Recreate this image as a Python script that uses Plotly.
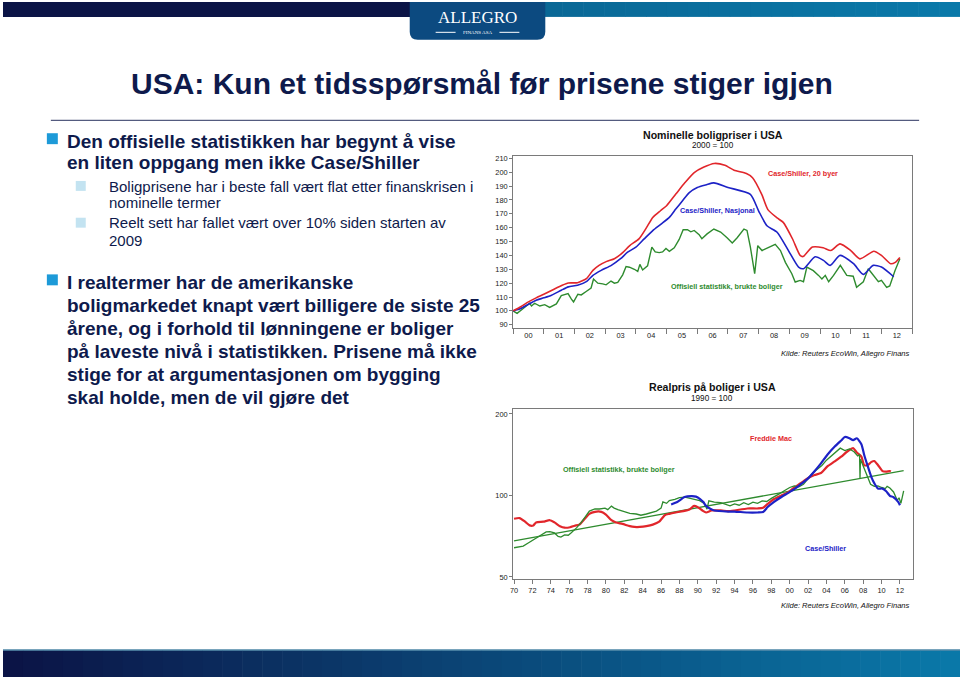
import plotly.graph_objects as go

W, H = 960, 679
def X(p): return p / W
def Y(p): return 1 - p / H

# ---------------- DATA ----------------
# Top chart: nominal house prices (2000 = 100), x in decimal years
cs20_x = [2000.0, 2000.25, 2000.5, 2000.75, 2001.0, 2001.3, 2001.6, 2001.8, 2002.1, 2002.4, 2002.6, 2002.8,
          2003.05, 2003.3, 2003.55, 2003.8, 2004.1, 2004.35, 2004.55, 2004.8, 2005.0, 2005.3, 2005.6, 2005.9,
          2006.2, 2006.55, 2006.9, 2007.2, 2007.6, 2007.8, 2008.1, 2008.3, 2008.6, 2008.8, 2009.1, 2009.35,
          2009.45, 2009.75, 2010.1, 2010.35, 2010.65, 2011.0, 2011.3, 2011.75, 2012.0, 2012.3, 2012.45, 2012.6]
cs20_y = [100, 103, 106.5, 109.4, 112, 115.3, 118.5, 120.1, 120.3, 123.5, 129.2, 132.8,
          135.7, 137.6, 141.6, 147.1, 151.9, 160.2, 167.4, 172.2, 175.8, 184.2, 192.5, 199.7,
          203.5, 206.3, 205.0, 201.4, 199.0, 196.0, 184.0, 173.0, 167.0, 163.8, 152.0, 140.0,
          139.2, 146.0, 145.5, 143.5, 148.3, 143.5, 137.5, 143.0, 140.0, 134.0, 135.0, 138.5]

csnat_x = [2000.0, 2000.25, 2000.5, 2000.75, 2001.0, 2001.25, 2001.57, 2001.8, 2002.1, 2002.4, 2002.6, 2002.87,
           2003.2, 2003.5, 2003.73, 2004.0, 2004.27, 2004.55, 2004.82, 2005.09, 2005.3, 2005.52, 2005.74, 2006.0,
           2006.3, 2006.54, 2007.0, 2007.73, 2008.0, 2008.27, 2008.6, 2008.97, 2009.3, 2009.46, 2009.84, 2010.11,
           2010.33, 2010.65, 2011.09, 2011.41, 2011.73, 2012.0, 2012.4]
csnat_y = [100, 101.7, 104.8, 107.7, 109.4, 111.3, 114.9, 117.3, 118.5, 121.3, 125.6, 129.2,
           132.8, 137.6, 142.3, 145.9, 151.9, 157.9, 162.6, 167.4, 173.4, 179.4, 185.3, 189.0,
           191.0, 192.3, 189.0, 184.0, 172.0, 161.4, 156.7, 143.5, 131.6, 130.4, 139.0, 136.4,
           132.8, 140.0, 134.0, 126.3, 132.8, 131.6, 124.6]

off_x = [2000.0, 2000.13, 2000.32, 2000.54, 2000.6, 2000.7, 2000.87, 2001.03, 2001.19, 2001.41, 2001.57, 2001.68,
         2001.79, 2001.9, 2001.97, 2002.11, 2002.22, 2002.38, 2002.54, 2002.62, 2002.76, 2002.92, 2003.03, 2003.19,
         2003.3, 2003.41, 2003.57, 2003.68, 2003.79, 2003.95, 2004.06, 2004.13, 2004.22, 2004.38, 2004.52, 2004.63,
         2004.76, 2004.87, 2004.98, 2005.09, 2005.25, 2005.41, 2005.54, 2005.68, 2005.79, 2005.9, 2006.06, 2006.15,
         2006.32, 2006.54, 2006.76, 2006.97, 2007.14, 2007.3, 2007.52, 2007.62, 2007.73, 2007.87, 2007.97, 2008.11,
         2008.27, 2008.54, 2008.71, 2008.87, 2009.08, 2009.19, 2009.35, 2009.46, 2009.57, 2009.78, 2009.95, 2010.06,
         2010.17, 2010.28, 2010.44, 2010.66, 2010.87, 2011.08, 2011.19, 2011.41, 2011.57, 2011.73, 2011.9, 2012.0,
         2012.17, 2012.27, 2012.44, 2012.6]
off_y = [100, 98.2, 101.5, 105.5, 103.5, 105.5, 103.5, 104.5, 102.5, 105, 111, 111.5,
         112.5, 108.5, 106.5, 112, 111.5, 114, 116.5, 123, 120, 119.5, 118.8, 121.5,
         120, 120.5, 126, 132, 131.5, 130, 128.5, 133.5, 129.5, 132.5, 146, 142.5,
         142, 142.5, 145, 143, 145.5, 151.5, 158.5, 158.5, 157, 158, 155, 152,
         155.5, 159, 156.8, 152.7, 149, 152.7, 159, 158, 146, 126.8, 147, 143.5,
         145, 148, 143.5, 135, 126.8, 120.8, 122, 121, 131.6, 129, 125.6, 123,
         125.6, 121, 125.6, 132.8, 125.6, 125, 117, 121, 130.4, 125.6, 121, 122,
         117, 118, 129, 137.6]

top_yticks = [90, 100, 110, 120, 130, 140, 150, 160, 170, 180, 190, 200, 210]
top_years = list(range(2000, 2014))
top_labels = ["00", "01", "02", "03", "04", "05", "06", "07", "08", "09", "10", "11", "12"]

# Bottom chart: real house prices (1990 = 100)
fm_x = [1970.0, 1970.6, 1971.2, 1971.7, 1972.1, 1972.4, 1973.2, 1973.9, 1974.4, 1975.0, 1975.5, 1976.1,
        1976.6, 1977.1, 1977.7, 1978.2, 1978.8, 1979.5, 1980.0, 1980.6, 1981.1, 1981.8, 1982.6, 1983.1,
        1983.7, 1984.4, 1985.1, 1985.8, 1986.4, 1986.9, 1987.6, 1988.4, 1989.1, 1989.6, 1990.0, 1990.5,
        1990.9, 1991.5, 1992.5, 1993.3, 1994.0, 1995.4, 1996.5, 1997.1, 1997.6, 1998.3, 1999.1, 1999.8,
        2000.5, 2001.2, 2002.0, 2002.7, 2003.4, 2004.1, 2004.9, 2005.6, 2006.3, 2006.9, 2007.3, 2007.8,
        2008.1, 2008.5, 2008.9, 2009.2, 2009.6, 2010.1, 2010.5, 2010.9, 2011.0]
fm_y = [82, 82.5, 80, 77.5, 77.5, 79.5, 80, 81, 79.5, 77, 76, 76.3,
        77.3, 78, 82, 85.5, 87, 87, 85, 81, 79.5, 78.5, 77, 76.5,
        76.5, 77, 78, 80, 84.5, 85.5, 86.5, 87.5, 88.8, 91.5, 90.5, 88,
        86.5, 88, 88, 87.5, 88, 89.5, 89.5, 90, 93, 97, 100, 102.5,
        107, 111, 116, 119, 121, 128, 133.5, 139, 145.6, 149.5, 144, 139,
        129.5, 129.5, 133, 134, 129.5, 123, 122.5, 123, 122.5]

csr_x = [1987.1, 1987.8, 1988.55, 1989.3, 1989.8, 1990.25, 1990.6, 1990.9, 1991.3, 1991.8, 1993.3, 1994.0,
         1995.4, 1996.5, 1997.1, 1997.6, 1998.3, 1999.1, 1999.8, 2000.5, 2001.2, 2002.0, 2002.7, 2003.4,
         2004.1, 2004.9, 2005.6, 2006.0, 2006.5, 2006.9, 2007.3, 2007.8, 2008.1, 2008.5, 2008.9, 2009.2,
         2009.6, 2010.1, 2010.5, 2010.9, 2011.3, 2011.8, 2012.0]
csr_y = [92.6, 94.7, 98.6, 99.4, 99, 97, 94.5, 91.5, 89.5, 88, 87.2, 87.2,
         86.5, 86.5, 86.8, 90.6, 94.7, 98.7, 102, 105.5, 110, 115.6, 122.8, 131.3,
         141.4, 151.6, 159.6, 164.4, 162.6, 160, 162.6, 154.6, 141.4, 128, 116.6, 111,
         106, 106, 103.6, 99.7, 98.5, 94.7, 92]

offr_x = [1970.0, 1970.4, 1971.0, 1971.5, 1972.1, 1972.6, 1973.2, 1973.5, 1973.9, 1974.4, 1974.8, 1975.1,
          1975.5, 1975.9, 1976.2, 1976.8, 1977.3, 1977.7, 1978.2, 1978.8, 1979.3, 1979.9, 1980.2, 1980.6,
          1980.9, 1981.3, 1981.8, 1982.6, 1983.3, 1983.8, 1984.4, 1984.9, 1985.5, 1986.0, 1986.2, 1986.6,
          1986.9, 1987.5, 1988.0, 1988.6, 1989.1, 1989.6, 1990.2, 1990.7, 1991.0, 1991.2, 1991.8, 1992.5,
          1993.0, 1993.5, 1994.0, 1994.5, 1995.0, 1995.5, 1996.0, 1996.5, 1997.0, 1997.5, 1998.0, 1998.5,
          1999.0, 1999.5, 2000.0, 2000.5, 2001.0, 2001.5, 2002.0, 2002.5, 2003.0, 2003.5, 2004.0, 2004.5,
          2005.0, 2005.5, 2006.0, 2006.5, 2007.0, 2007.4, 2007.6, 2007.65, 2007.7, 2008.0, 2008.3, 2008.8,
          2009.2, 2009.6, 2010.0, 2010.4, 2010.6, 2010.9, 2011.3, 2011.7, 2011.9, 2012.1, 2012.4]
offr_y = [64.1, 64.3, 65, 66.6, 68.6, 70.6, 72.7, 73.3, 73.5, 72.7, 70.6, 70.2,
          71.5, 71.3, 72.7, 75.9, 79.4, 83.3, 87.5, 89.1, 89.1, 89.8, 88.6, 91.3,
          89.8, 88.6, 87.5, 85.8, 85.4, 84.5, 85.4, 86.3, 87.5, 89.8, 94.6, 93.5,
          95.7, 96.8, 98.1, 98.6, 97.5, 96.8, 95.7, 93.5, 89, 95.5, 94.5, 94,
          92.5, 91.5, 93, 92, 94, 92.5, 94.5, 93.5, 95.5, 95, 97.5, 99.5,
          102, 104.5, 107, 108.5, 107.5, 110, 116, 121, 125, 129, 135, 140,
          145, 149.5, 146.5, 148.5, 145, 140, 141, 115.5, 136, 128, 120, 110,
          108, 108.5, 107, 106, 108, 106.5, 103, 96, 98, 93.5, 104]

trend_x = [1970.0, 2012.4]
trend_y = [68, 123.5]

bot_years = list(range(1970, 2013, 2))
bot_labels = ["70", "72", "74", "76", "78", "80", "82", "84", "86", "88", "90", "92", "94", "96", "98",
              "00", "02", "04", "06", "08", "10", "12"]
bot_yticks = [50, 100, 200]

# ---------------- STYLE ----------------
RED = "#e1262b"
BLUE = "#1d22c6"
GREEN = "#2e8b2e"
NAVY = "#0e1a4c"
FONT = "Liberation Sans, Arial, sans-serif"

fig = go.Figure()

def line(x, y, color, width, ax, shape="linear"):
    fig.add_trace(go.Scatter(x=x, y=y, mode="lines", xaxis="x" + ax, yaxis="y" + ax,
                             line=dict(color=color, width=width, shape=shape,
                                       **({"smoothing": 0.6} if shape == "spline" else {})),
                             showlegend=False, hoverinfo="skip"))

line(off_x, off_y, GREEN, 1.4, "")
line(csnat_x, csnat_y, BLUE, 1.6, "", "spline")
line(cs20_x, cs20_y, RED, 1.6, "", "spline")

line(trend_x, trend_y, GREEN, 1.3, "2")
line(fm_x, fm_y, RED, 2.2, "2", "spline")
line(offr_x, offr_y, GREEN, 1.3, "2")
line(csr_x, csr_y, BLUE, 2.2, "2", "spline")

axcommon = dict(showline=True, linecolor="#7a7a7a", linewidth=1, mirror=True, showgrid=False,
                zeroline=False, tickfont=dict(family=FONT, size=7.4, color="#222"),
                tickcolor="#7a7a7a")

fig.update_layout(
    width=W, height=H, autosize=False,
    margin=dict(l=0, r=0, t=0, b=0),
    paper_bgcolor="white", plot_bgcolor="white",
    xaxis=dict(domain=[X(511.7), X(912)], range=[2000, 2013], anchor="y",
               tickmode="array", tickvals=[v + 0.5 for v in top_years[:-1]], ticktext=top_labels,
               ticks="", minor=dict(tickmode="array", tickvals=top_years, ticks="outside", ticklen=5,
                                    tickcolor="#7a7a7a"),
               **axcommon),
    yaxis=dict(domain=[Y(328.3), Y(155)], range=[87.4, 211.6], anchor="x",
               tickmode="array", tickvals=top_yticks, ticks="outside", ticklen=3, **axcommon),
    xaxis2=dict(domain=[X(511.7), X(912.7)], range=[1969.9, 2013.4], anchor="y2",
                tickmode="array", tickvals=bot_years, ticktext=bot_labels, ticks="outside", ticklen=4,
                **axcommon),
    yaxis2=dict(domain=[Y(580.7), Y(409.3)], type="log", range=[1.69037, 2.31963], anchor="x2",
                tickmode="array", tickvals=bot_yticks, ticktext=[str(v) for v in bot_yticks],
                ticks="outside", ticklen=3, **axcommon),
)

shapes = []
annos = []

def rect(x0, y0, x1, y1, color):
    shapes.append(dict(type="rect", xref="paper", yref="paper", x0=X(x0), x1=X(x1), y0=Y(y1), y1=Y(y0),
                       fillcolor=color, line=dict(width=0), layer="above"))

def text(x, y, s, size, color=NAVY, bold=False, italic=False, xanchor="left", family=FONT):
    if bold:
        s = "<b>" + s + "</b>"
    if italic:
        s = "<i>" + s + "</i>"
    annos.append(dict(x=X(x), y=Y(y), xref="paper", yref="paper", text=s, showarrow=False,
                      xanchor=xanchor, yanchor="middle", font=dict(family=family, size=size, color=color),
                      borderpad=0))

def lerp(c0, c1, t):
    return "rgb(%d,%d,%d)" % tuple(round(a + (b - a) * t) for a, b in zip(c0, c1))

# header band
rect(0, 0, 410, 15, "#0b1446")
N = 20
for i in range(N):
    x0 = 540 + (960 - 540) * i / N
    x1 = 540 + (960 - 540) * (i + 1) / N + 0.6
    rect(x0, 0, x1, 15, lerp((10, 104, 150), (10, 122, 170), i / N))
# logo tab
tab = "M {a},{t} L {b},{t} L {b},{c1} Q {b},{bt} {b2},{bt} L {a2},{bt} Q {a},{bt} {a},{c1} Z".format(
    a=X(408), b=X(544), t=Y(0), c1=Y(30), bt=Y(38), b2=X(536), a2=X(416))
shapes.append(dict(type="path", xref="paper", yref="paper", path=tab, fillcolor="#0c4a80",
                   line=dict(width=0), layer="above"))
text(476, 15.5, "ALLEGRO", 17, color="white", xanchor="center", family="Liberation Serif, DejaVu Serif, serif")
text(476, 30.5, "FINANS ASA", 5, color="white", xanchor="center", family="Liberation Serif, DejaVu Serif, serif")
shapes.append(dict(type="line", xref="paper", yref="paper", x0=X(434), x1=X(454), y0=Y(30.5), y1=Y(30.5),
                   line=dict(color="white", width=1)))
shapes.append(dict(type="line", xref="paper", yref="paper", x0=X(498), x1=X(518), y0=Y(30.5), y1=Y(30.5),
                   line=dict(color="white", width=1)))

# footer band
M = 48
for i in range(M):
    x0 = 960 * i / M
    x1 = 960 * (i + 1) / M + 0.6
    rect(x0, 652, x1, 679, lerp((11, 20, 70), (10, 120, 168), i / (M - 1)))
rect(0, 651, 960, 652.5, "#4d86a6")

# title and rule
text(481, 82, "USA: Kun et tidsspørsmål før prisene stiger igjen", 30, bold=True, xanchor="center")
shapes.append(dict(type="line", xref="paper", yref="paper", x0=X(48), x1=X(919), y0=Y(119), y1=Y(119),
                   line=dict(color="#2a3260", width=1)))

# bullets
rect(44, 132, 55, 143, "#1d9ad8")
text(63, 140.5, "Den offisielle statistikken har begynt å vise", 19, bold=True)
text(63, 161.5, "en liten oppgang men ikke Case/Shiller", 19, bold=True)
rect(73, 180, 83, 190, "#c3e3f1")
text(105, 185.5, "Boligprisene har i beste fall vært flat etter finanskrisen i", 15)
text(105, 202, "nominelle termer", 15)
rect(73, 217, 83, 227, "#c3e3f1")
text(105, 222, "Reelt sett har fallet vært over 10% siden starten av", 15)
text(105, 239.5, "2009", 15)

rect(44, 274, 55, 285, "#1d9ad8")
lines2 = ["I realtermer har de amerikanske",
          "boligmarkedet knapt vært billigere de siste 25",
          "årene, og i forhold til lønningene er boliger",
          "på laveste nivå i statistikken. Prisene må ikke",
          "stige for at argumentasjonen om bygging",
          "skal holde, men de vil gjøre det"]
for i, s in enumerate(lines2):
    text(63, 282 + i * 23.1, s, 19, bold=True)

# chart titles and labels
text(712.5, 133.5, "Nominelle boligpriser i USA", 10.6, color="#111", bold=True, xanchor="center")
text(712.5, 144.5, "2000 = 100", 8.2, color="#111", xanchor="center")
text(803, 172.3, "Case/Shiller, 20 byer", 7.2, color=RED, bold=True, xanchor="center")
text(717, 210, "Case/Shiller, Nasjonal", 7.2, color=BLUE, bold=True, xanchor="center")
text(726, 285.7, "Offisiell statistikk, brukte boliger", 7.2, color=GREEN, bold=True, xanchor="center")
text(911, 353.5, "Kilde: Reuters EcoWin, Allegro Finans", 7.6, color="#111", italic=True, xanchor="right")

text(711.5, 387.5, "Realpris på boliger i USA", 10.6, color="#111", bold=True, xanchor="center")
text(711.5, 399, "1990 = 100", 8.2, color="#111", xanchor="center")
text(770.7, 439.3, "Freddie Mac", 7.2, color=RED, bold=True, xanchor="center")
text(618, 470, "Offisiell statistikk, brukte boliger", 7.2, color=GREEN, bold=True, xanchor="center")
text(825, 550, "Case/Shiller", 7.2, color=BLUE, bold=True, xanchor="center")
text(911, 607.5, "Kilde: Reuters EcoWin, Allegro Finans", 7.6, color="#111", italic=True, xanchor="right")

fig.update_layout(shapes=shapes, annotations=annos)
fig.write_html("out.html", config={"displayModeBar": False},
               post_script="document.body.style.margin='0';document.body.style.overflow='hidden';")
